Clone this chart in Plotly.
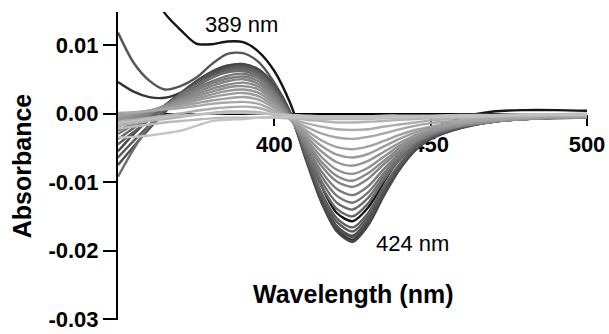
import plotly.graph_objects as go

# Wavelength grid (nm)
wavelength = [350, 355, 360, 365, 370, 375, 380, 385, 390, 395, 400, 405, 410,
              415, 420, 425, 430, 435, 440, 445, 450, 460, 470, 480, 490, 500]

# Difference spectra (absorbance), darkest/deepest first
s_b = [0.0046, 0.0032, 0.0024, 0.0023, 0.0030, 0.0043, 0.0057, 0.0068, 0.0072, 0.0064, 0.0041, 0.0002, -0.0064,
       -0.0127, -0.0169, -0.0184, -0.0160, -0.0118, -0.0081, -0.0053, -0.0037, -0.0020, -0.0012, -0.0008, -0.0006, -0.0005]
s_01 = [-0.0055, -0.0030, -0.0008, 0.0012, 0.0030, 0.0047, 0.0061, 0.0070, 0.0072, 0.0063, 0.0040, 0.0002, -0.0066,
        -0.0129, -0.0172, -0.0187, -0.0163, -0.0120, -0.0082, -0.0054, -0.0037, -0.0021, -0.0012, -0.0008, -0.0007, -0.0006]
s_a = [0.0118, 0.0074, 0.0048, 0.0035, 0.0040, 0.0052, 0.0072, 0.0087, 0.0088, 0.0075, 0.0045, 0.0003, -0.0060,
       -0.0123, -0.0166, -0.0180, -0.0157, -0.0115, -0.0079, -0.0052, -0.0036, -0.0020, -0.0012, -0.0008, -0.0006, -0.0005]
s_02 = [-0.0075, -0.0048, -0.0022, 0.0002, 0.0024, 0.0042, 0.0057, 0.0067, 0.0070, 0.0062, 0.0039, 0.0001, -0.0063,
        -0.0123, -0.0164, -0.0178, -0.0155, -0.0114, -0.0078, -0.0052, -0.0036, -0.0020, -0.0012, -0.0008, -0.0006, -0.0005]
s_03 = [-0.0064, -0.0040, -0.0017, 0.0005, 0.0024, 0.0041, 0.0055, 0.0065, 0.0068, 0.0060, 0.0037, 0.0000, -0.0061,
        -0.0119, -0.0158, -0.0172, -0.0150, -0.0110, -0.0076, -0.0050, -0.0035, -0.0019, -0.0011, -0.0008, -0.0006, -0.0005]
s_04 = [-0.0045, -0.0027, -0.0009, 0.0009, 0.0025, 0.0040, 0.0053, 0.0063, 0.0066, 0.0058, 0.0035, -0.0001, -0.0059,
        -0.0115, -0.0153, -0.0166, -0.0145, -0.0107, -0.0074, -0.0049, -0.0034, -0.0019, -0.0011, -0.0008, -0.0006, -0.0005]
s_389 = [0.0400, 0.0300, 0.0190, 0.0146, 0.0122, 0.0102, 0.0101, 0.0105, 0.0104, 0.0090, 0.0062, 0.0016, -0.0048,
         -0.0105, -0.0145, -0.0157, -0.0137, -0.0100, -0.0066, -0.0042, -0.0024, -0.0006, 0.0003, 0.0005, 0.0005, 0.0004]
s_05 = [-0.0037, -0.0021, -0.0005, 0.0011, 0.0026, 0.0040, 0.0052, 0.0061, 0.0064, 0.0056, 0.0033, -0.0002, -0.0055,
        -0.0105, -0.0139, -0.0150, -0.0131, -0.0097, -0.0068, -0.0046, -0.0032, -0.0018, -0.0011, -0.0008, -0.0006, -0.0005]
s_06 = [-0.0092, -0.0052, -0.0018, 0.0009, 0.0028, 0.0042, 0.0053, 0.0060, 0.0062, 0.0054, 0.0031, -0.0003, -0.0052,
        -0.0098, -0.0130, -0.0140, -0.0123, -0.0092, -0.0065, -0.0044, -0.0031, -0.0018, -0.0011, -0.0008, -0.0006, -0.0005]
s_07 = [-0.0030, -0.0016, -0.0002, 0.0012, 0.0025, 0.0037, 0.0047, 0.0055, 0.0058, 0.0051, 0.0029, -0.0004, -0.0049,
        -0.0091, -0.0120, -0.0130, -0.0115, -0.0087, -0.0062, -0.0043, -0.0031, -0.0018, -0.0011, -0.0008, -0.0006, -0.0005]
s_08 = [-0.0025, -0.0013, -0.0001, 0.0011, 0.0023, 0.0034, 0.0044, 0.0051, 0.0054, 0.0047, 0.0026, -0.0005, -0.0046,
        -0.0084, -0.0110, -0.0119, -0.0106, -0.0081, -0.0059, -0.0042, -0.0030, -0.0018, -0.0012, -0.0008, -0.0006, -0.0005]
s_09 = [-0.0019, -0.0009, 0.0001, 0.0011, 0.0021, 0.0031, 0.0040, 0.0047, 0.0050, 0.0043, 0.0023, -0.0006, -0.0042,
        -0.0076, -0.0099, -0.0107, -0.0095, -0.0074, -0.0055, -0.0040, -0.0029, -0.0018, -0.0012, -0.0008, -0.0006, -0.0005]
s_10 = [-0.0014, -0.0006, 0.0003, 0.0011, 0.0019, 0.0028, 0.0036, 0.0042, 0.0045, 0.0039, 0.0020, -0.0007, -0.0039,
        -0.0070, -0.0091, -0.0098, -0.0087, -0.0069, -0.0051, -0.0037, -0.0027, -0.0017, -0.0011, -0.0008, -0.0006, -0.0005]
s_11 = [-0.0010, -0.0003, 0.0004, 0.0010, 0.0017, 0.0025, 0.0032, 0.0038, 0.0040, 0.0035, 0.0017, -0.0008, -0.0036,
        -0.0063, -0.0082, -0.0088, -0.0079, -0.0063, -0.0047, -0.0035, -0.0026, -0.0016, -0.0011, -0.0008, -0.0006, -0.0005]
s_12 = [-0.0007, -0.0001, 0.0004, 0.0009, 0.0015, 0.0022, 0.0028, 0.0033, 0.0035, 0.0030, 0.0014, -0.0008, -0.0032,
        -0.0055, -0.0071, -0.0076, -0.0069, -0.0056, -0.0043, -0.0032, -0.0024, -0.0015, -0.0010, -0.0007, -0.0006, -0.0005]
s_13 = [-0.0004, 0.0000, 0.0004, 0.0008, 0.0013, 0.0019, 0.0024, 0.0028, 0.0030, 0.0025, 0.0011, -0.0008, -0.0028,
        -0.0047, -0.0060, -0.0064, -0.0059, -0.0048, -0.0037, -0.0028, -0.0021, -0.0014, -0.0010, -0.0007, -0.0005, -0.0004]
s_14 = [-0.0002, 0.0001, 0.0004, 0.0007, 0.0011, 0.0015, 0.0019, 0.0022, 0.0024, 0.0020, 0.0008, -0.0008, -0.0024,
        -0.0039, -0.0049, -0.0052, -0.0048, -0.0040, -0.0031, -0.0024, -0.0019, -0.0012, -0.0009, -0.0006, -0.0005, -0.0004]
s_15 = [0.0001, 0.0002, 0.0004, 0.0006, 0.0008, 0.0011, 0.0014, 0.0016, 0.0017, 0.0014, 0.0004, -0.0008, -0.0019,
        -0.0029, -0.0035, -0.0037, -0.0034, -0.0029, -0.0023, -0.0018, -0.0014, -0.0010, -0.0007, -0.0005, -0.0004, -0.0003]
s_16 = [-0.0012, -0.0009, -0.0006, -0.0003, 0.0000, 0.0004, 0.0007, 0.0009, 0.0010, 0.0008, 0.0001, -0.0007, -0.0014,
        -0.0019, -0.0023, -0.0024, -0.0023, -0.0019, -0.0016, -0.0013, -0.0010, -0.0007, -0.0005, -0.0004, -0.0003, -0.0003]
s_17 = [-0.0018, -0.0014, -0.0011, -0.0008, -0.0005, -0.0002, 0.0001, 0.0003, 0.0003, 0.0002, -0.0002, -0.0006, -0.0009,
        -0.0011, -0.0013, -0.0013, -0.0012, -0.0011, -0.0009, -0.0008, -0.0007, -0.0005, -0.0004, -0.0003, -0.0002, -0.0002]
s_18 = [-0.0022, -0.0019, -0.0016, -0.0013, -0.0011, -0.0009, -0.0007, -0.0006, -0.0006, -0.0006, -0.0006, -0.0007, -0.0007,
        -0.0008, -0.0008, -0.0008, -0.0008, -0.0007, -0.0007, -0.0006, -0.0006, -0.0005, -0.0004, -0.0003, -0.0002, -0.0002]
s_19 = [-0.0035, -0.0034, -0.0032, -0.0029, -0.0025, -0.0018, -0.0011, -0.0009, -0.0008, -0.0006, -0.0005, -0.0005, -0.0005,
        -0.0006, -0.0006, -0.0006, -0.0006, -0.0005, -0.0005, -0.0005, -0.0004, -0.0004, -0.0003, -0.0002, -0.0002, -0.0001]
s_20 = [-0.0014, -0.0011, -0.0008, -0.0005, -0.0003, -0.0001, 0.0000, 0.0001, 0.0001, 0.0000, -0.0001, -0.0002, -0.0003,
        -0.0004, -0.0004, -0.0004, -0.0004, -0.0003, -0.0003, -0.0003, -0.0003, -0.0002, -0.0002, -0.0001, -0.0001, 0.0000]

spectra = [s_b, s_01, s_a, s_02, s_03, s_04, s_389, s_05, s_06, s_07, s_08, s_09, s_10,
           s_11, s_12, s_13, s_14, s_15, s_16, s_17, s_18, s_19, s_20]
colors = ["#353535", "#474747", "#555555", "#4e4e4e", "#5a5a5a", "#606060", "#151515", "#676767",
          "#6e6e6e", "#767676", "#7c7c7c", "#838383", "#898989", "#8f8f8f", "#959595", "#9b9b9b",
          "#a1a1a1", "#a7a7a7", "#adadad", "#b3b3b3", "#b9b9b9", "#c3c3c3", "#bebebe"]

x_ticks = [400, 450, 500]
y_ticks = [-0.03, -0.02, -0.01, 0.00, 0.01]
y_tick_text = ["-0.03", "-0.02", "-0.01", "0.00", "0.01"]
x_range = [350, 500]
y_range = [-0.0301, 0.0148]

FONT = "Liberation Sans, Arial, Helvetica, sans-serif"

fig = go.Figure()
for s, c in zip(spectra, colors):
    fig.add_trace(go.Scatter(x=wavelength, y=s, mode="lines",
                             line=dict(color=c, width=2.4, shape="spline", smoothing=0.8),
                             showlegend=False, hoverinfo="skip"))

zero_pos = (0 - y_range[0]) / (y_range[1] - y_range[0])

fig.update_layout(
    width=609, height=334,
    margin=dict(l=118, r=22, t=12, b=14),
    paper_bgcolor="white", plot_bgcolor="white",
    showlegend=False,
    font=dict(family=FONT, color="black"),
    xaxis=dict(range=x_range, tickvals=x_ticks, ticktext=[str(v) for v in x_ticks],
               ticks="outside", ticklen=11, tickwidth=2, tickcolor="black",
               showline=True, linecolor="black", linewidth=2,
               showgrid=False, zeroline=False, automargin=False,
               anchor="free", position=zero_pos, layer="below traces",
               ticklabeloverflow="allow",
               tickfont=dict(family=FONT, size=22, weight="bold", color="black")),
    yaxis=dict(range=y_range, tickvals=y_ticks, ticktext=y_tick_text,
               ticks="outside", ticklen=13, tickwidth=2, tickcolor="black",
               showline=True, linecolor="black", linewidth=2,
               showgrid=False, zeroline=False, automargin=False,
               ticklabeloverflow="allow",
               tickfont=dict(family=FONT, size=22, weight="bold", color="black"),
               title=dict(text="Absorbance", standoff=10,
                          font=dict(family=FONT, size=25, weight="bold", color="black"))),
    annotations=[
        dict(text="Wavelength (nm)", xref="paper", yref="paper", x=0.5, y=0.085,
             xanchor="center", yanchor="middle", showarrow=False,
             font=dict(family=FONT, size=25, weight="bold", color="black")),
        dict(text="389 nm", xref="x", yref="y", x=389.5, y=0.0130,
             xanchor="center", yanchor="middle", showarrow=False,
             font=dict(family=FONT, size=22, color="black")),
        dict(text="424 nm", xref="x", yref="y", x=432, y=-0.0190,
             xanchor="left", yanchor="middle", showarrow=False,
             font=dict(family=FONT, size=22, color="black")),
    ],
)

# remove the page's default body margin so the figure fills the window exactly
fig.write_html("out.html", config={"displayModeBar": False},
               post_script="document.body.style.margin='0';document.body.style.overflow='hidden';")
